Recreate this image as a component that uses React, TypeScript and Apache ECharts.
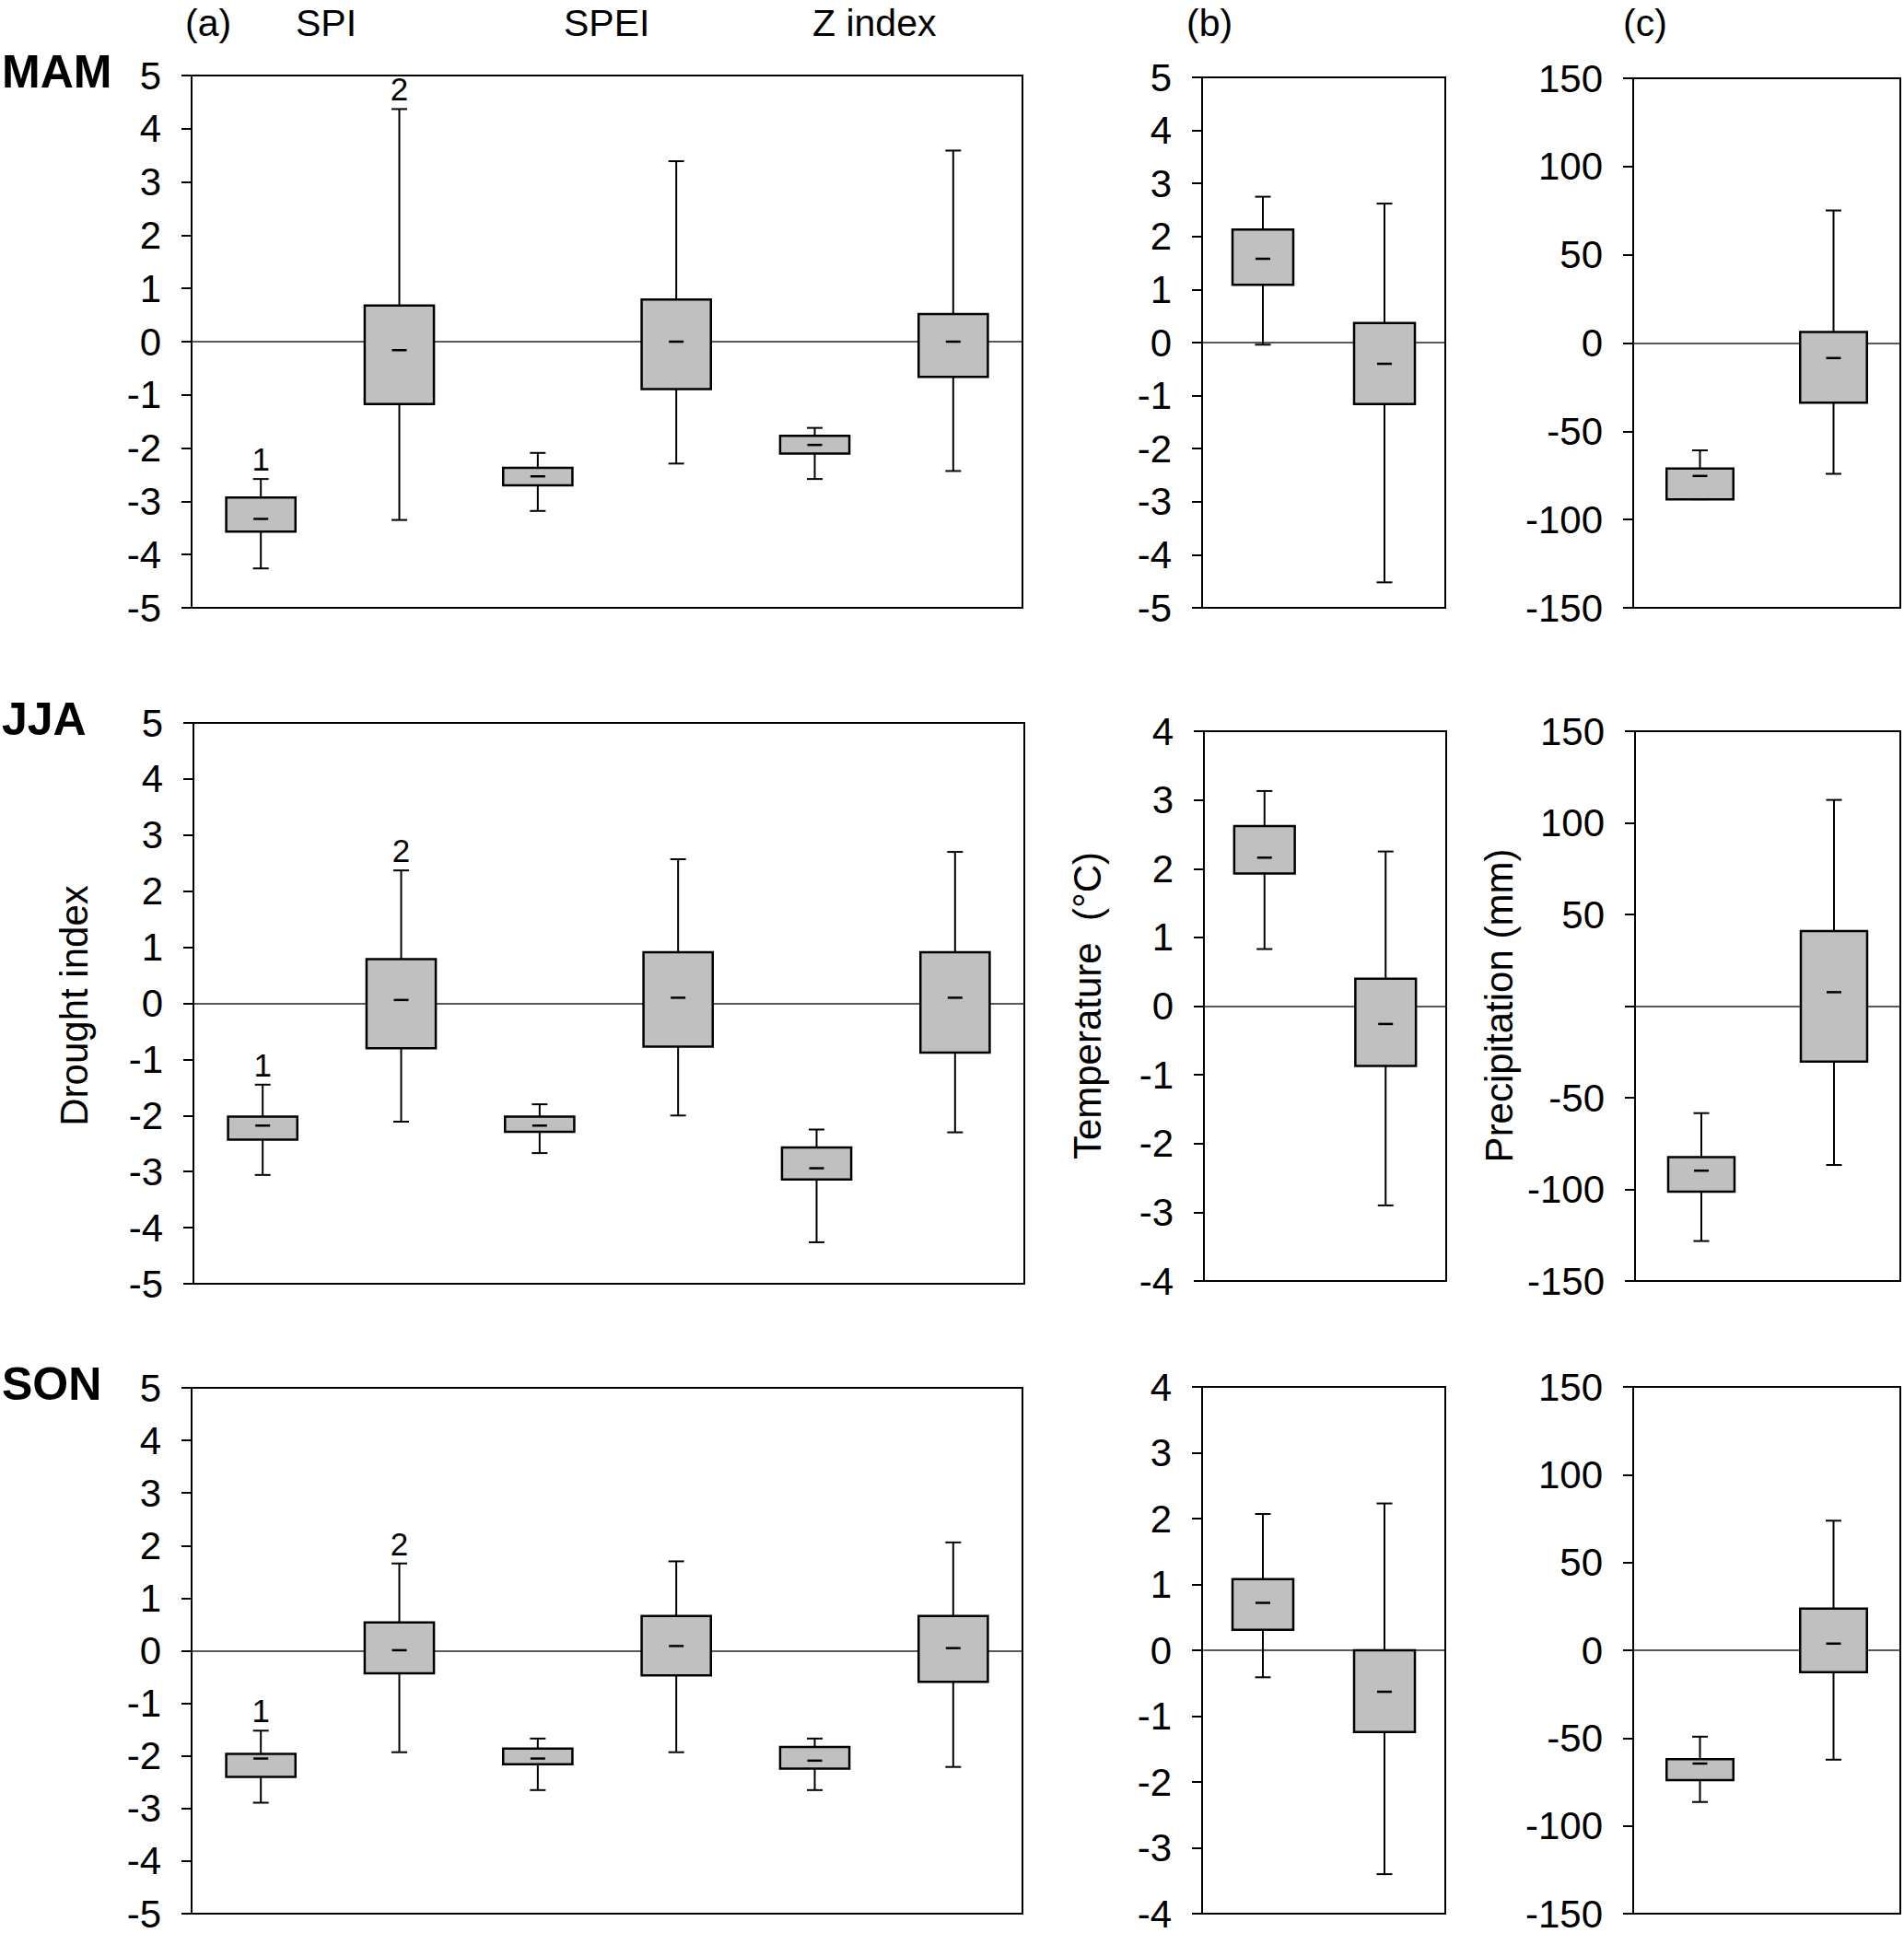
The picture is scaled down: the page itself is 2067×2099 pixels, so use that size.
import React, { useEffect, useRef } from "react";
import * as echarts from "echarts";

const FONT = "'Liberation Sans', Arial, Helvetica, sans-serif";

// categories
const INDEX_CATEGORIES = ["SPI drought", "SPI normal", "SPEI drought", "SPEI normal", "Z drought", "Z normal"];
const CLIMATE_CATEGORIES = ["drought", "normal"];
const INDEX_MARKS = ["1", "2", "", "", "", ""];

// axis ranges [min, max, interval]
const INDEX_AXIS = [-5, 5, 1];
const TEMP_AXIS_MAM = [-5, 5, 1];
const TEMP_AXIS = [-4, 4, 1];
const PRECIP_AXIS = [-150, 150, 50];

// header texts
const HEADER_TEXTS = ["(a)", "SPI", "SPEI", "Z index", "(b)", "(c)"];
const SEASONS = ["MAM", "JJA", "SON"];
const AXIS_NAMES = ["Drought index", "Temperature  (°C)", "Precipitation (mm)"];

// box values: [low whisker, Q1, median, Q3, high whisker]
const MAM_INDEX = [
  [-4.26, -3.57, -3.33, -2.93, -2.58],
  [-3.35, -1.17, -0.16, 0.68, 4.37],
  [-3.18, -2.7, -2.53, -2.37, -2.09],
  [-2.29, -0.89, 0.0, 0.79, 3.39],
  [-2.58, -2.1, -1.94, -1.77, -1.62],
  [-2.43, -0.66, 0.0, 0.52, 3.59],
];
const JJA_INDEX = [
  [-3.06, -2.43, -2.18, -2.02, -1.45],
  [-2.11, -0.8, 0.06, 0.79, 2.37],
  [-2.67, -2.29, -2.18, -2.02, -1.8],
  [-2.0, -0.77, 0.1, 0.91, 2.57],
  [-4.26, -3.14, -2.94, -2.57, -2.25],
  [-2.3, -0.88, 0.1, 0.91, 2.7],
];
const SON_INDEX = [
  [-2.89, -2.4, -2.05, -1.96, -1.52],
  [-1.93, -0.43, 0.01, 0.54, 1.66],
  [-2.65, -2.16, -2.05, -1.86, -1.67],
  [-1.93, -0.47, 0.09, 0.66, 1.7],
  [-2.65, -2.24, -2.09, -1.83, -1.67],
  [-2.21, -0.59, 0.05, 0.66, 2.06],
];
const MAM_TEMP = [
  [-0.04, 1.09, 1.58, 2.13, 2.75],
  [-4.52, -1.16, -0.4, 0.37, 2.62],
];
const JJA_TEMP = [
  [0.83, 1.93, 2.16, 2.62, 3.13],
  [-2.9, -0.87, -0.26, 0.4, 2.25],
];
const SON_TEMP = [
  [-0.41, 0.31, 0.72, 1.08, 2.07],
  [-3.4, -1.24, -0.63, 0.0, 2.23],
];
const MAM_PRECIP = [
  [-88.5, -88.5, -75.3, -71.1, -60.8],
  [-74.1, -33.8, -8.5, 6.2, 75.1],
];
const JJA_PRECIP = [
  [-128.2, -101.3, -89.8, -82.4, -58.4],
  [-86.7, -30.3, 7.6, 40.9, 112.5],
];
const SON_PRECIP = [
  [-86.4, -74.0, -64.5, -62.0, -49.2],
  [-62.3, -12.4, 3.8, 23.7, 73.8],
];

type Panel = {
  left: number;
  top: number;
  width: number;
  height: number;
  cats: string[];
  data: number[][];
  axis: number[];
  marks?: string[];
  hideZero?: boolean;
};

const PANELS: Panel[] = [
  { left: 208, top: 82, width: 902, height: 578, cats: INDEX_CATEGORIES, data: MAM_INDEX, axis: INDEX_AXIS, marks: INDEX_MARKS },
  { left: 1305, top: 84, width: 264, height: 576, cats: CLIMATE_CATEGORIES, data: MAM_TEMP, axis: TEMP_AXIS_MAM },
  { left: 1773, top: 85, width: 290, height: 575, cats: CLIMATE_CATEGORIES, data: MAM_PRECIP, axis: PRECIP_AXIS },
  { left: 210, top: 785, width: 902, height: 609, cats: INDEX_CATEGORIES, data: JJA_INDEX, axis: INDEX_AXIS, marks: INDEX_MARKS },
  { left: 1307, top: 794, width: 263, height: 597, cats: CLIMATE_CATEGORIES, data: JJA_TEMP, axis: TEMP_AXIS },
  { left: 1775, top: 794, width: 288, height: 597, cats: CLIMATE_CATEGORIES, data: JJA_PRECIP, axis: PRECIP_AXIS, hideZero: true },
  { left: 208, top: 1507, width: 902, height: 574, cats: INDEX_CATEGORIES, data: SON_INDEX, axis: INDEX_AXIS, marks: INDEX_MARKS },
  { left: 1305, top: 1506, width: 264, height: 575, cats: CLIMATE_CATEGORIES, data: SON_TEMP, axis: TEMP_AXIS },
  { left: 1773, top: 1506, width: 290, height: 575, cats: CLIMATE_CATEGORIES, data: SON_PRECIP, axis: PRECIP_AXIS },
];

function makeRender(marks?: string[]) {
  return (params: any, api: any) => {
    const idx = api.value(0);
    const low = api.coord([idx, api.value(1)]);
    const q1 = api.coord([idx, api.value(2)]);
    const med = api.coord([idx, api.value(3)]);
    const q3 = api.coord([idx, api.value(4)]);
    const high = api.coord([idx, api.value(5)]);
    const cx = low[0];
    const bw = api.size([1, 0])[0] * 0.5;
    const cap = 17;
    const dash = 16;
    const ls = { stroke: "#000", lineWidth: 2 };
    const children: any[] = [
      { type: "line", shape: { x1: cx, y1: high[1], x2: cx, y2: q3[1] }, style: ls },
      { type: "line", shape: { x1: cx, y1: q1[1], x2: cx, y2: low[1] }, style: ls },
      { type: "line", shape: { x1: cx - cap / 2, y1: high[1], x2: cx + cap / 2, y2: high[1] }, style: ls },
      { type: "line", shape: { x1: cx - cap / 2, y1: low[1], x2: cx + cap / 2, y2: low[1] }, style: ls },
      {
        type: "rect",
        shape: { x: cx - bw / 2, y: q3[1], width: bw, height: q1[1] - q3[1] },
        style: { fill: "#c0c0c0", stroke: "#000", lineWidth: 2.5 },
      },
      {
        type: "line",
        shape: { x1: cx - dash / 2, y1: med[1], x2: cx + dash / 2, y2: med[1] },
        style: { stroke: "#000", lineWidth: 2.5 },
      },
    ];
    const m = marks ? marks[params.dataIndex] : "";
    if (m) {
      children.push({
        type: "text",
        x: cx,
        y: high[1] - 4,
        style: { text: m, fontSize: 35, fontFamily: FONT, fill: "#000", align: "center", verticalAlign: "bottom" },
      });
    }
    return { type: "group", children };
  };
}

export default function App() {
  const ref = useRef<HTMLDivElement>(null);
  useEffect(() => {
    if (!ref.current) return;
    const chart = echarts.init(ref.current, null, { renderer: "svg" });
    const grids: any[] = [];
    const xAxes: any[] = [];
    const yAxes: any[] = [];
    const series: any[] = [];
    PANELS.forEach((p, i) => {
      grids.push({
        left: p.left,
        top: p.top,
        width: p.width,
        height: p.height,
        show: true,
        borderColor: "#000",
        borderWidth: 2,
        backgroundColor: "transparent",
      });
      xAxes.push({
        type: "category",
        gridIndex: i,
        data: p.cats,
        axisLine: { show: false },
        axisTick: { show: false },
        axisLabel: { show: false },
        splitLine: { show: false },
      });
      yAxes.push({
        type: "value",
        gridIndex: i,
        min: p.axis[0],
        max: p.axis[1],
        interval: p.axis[2],
        axisLine: { show: true, lineStyle: { color: "#000", width: 2 } },
        axisTick: { show: true, length: 11, lineStyle: { color: "#000", width: 2 } },
        splitLine: { show: false },
        axisLabel: {
          fontSize: 42,
          fontFamily: FONT,
          color: "#000",
          margin: 33,
          formatter: (v: number) => (p.hideZero && v === 0 ? "" : String(v)),
        },
      });
      series.push({
        type: "line",
        xAxisIndex: i,
        yAxisIndex: i,
        data: p.cats.map(() => null),
        silent: true,
        symbol: "none",
        lineStyle: { opacity: 0 },
        markLine: {
          silent: true,
          z: 1,
          symbol: ["none", "none"],
          label: { show: false },
          lineStyle: { color: "#222", width: 1.6, type: "solid" },
          data: [{ yAxis: 0 }],
        },
      });
      series.push({
        type: "custom",
        xAxisIndex: i,
        yAxisIndex: i,
        z: 3,
        data: p.data.map((b, k) => [k, ...b]),
        encode: { x: 0, y: [1, 2, 3, 4, 5] },
        renderItem: makeRender(p.marks),
      });
    });

    const headerX = [201, 321, 612, 882, 1288, 1762];
    const seasonY = [78, 781, 1503];
    const nameX = [80, 1180, 1627];
    const textStyle = (t: string, size: number, bold = false) => ({
      text: t,
      fontSize: size,
      fontFamily: FONT,
      fontWeight: bold ? "bold" : "normal",
      fill: "#000",
    });
    const graphic: any[] = [];
    HEADER_TEXTS.forEach((t, i) => {
      graphic.push({
        type: "text",
        x: headerX[i],
        y: 25,
        style: { ...textStyle(t, 41), align: "left", verticalAlign: "middle" },
      });
    });
    SEASONS.forEach((t, i) => {
      graphic.push({
        type: "text",
        x: 2,
        y: seasonY[i],
        style: { ...textStyle(t, 50, true), align: "left", verticalAlign: "middle" },
      });
    });
    AXIS_NAMES.forEach((t, i) => {
      graphic.push({
        type: "text",
        x: nameX[i],
        y: 1092,
        rotation: Math.PI / 2,
        style: { ...textStyle(t, 42), align: "center", verticalAlign: "middle" },
      });
    });

    chart.setOption({
      animation: false,
      backgroundColor: "#fff",
      grid: grids,
      xAxis: xAxes,
      yAxis: yAxes,
      series,
      graphic,
    });
    return () => chart.dispose();
  }, []);
  return (
    <div
      ref={ref}
      style={{ position: "absolute", left: 0, top: 0, width: 2067, height: 2099, background: "#fff" }}
    />
  );
}
